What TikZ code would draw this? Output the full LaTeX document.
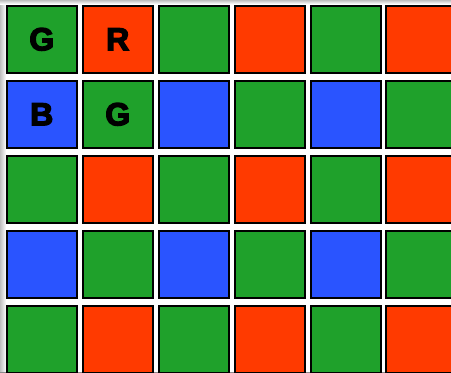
\documentclass[tikz,border=0pt]{standalone}
\usepackage{fontspec}
\setmainfont{Liberation Sans}
\newfontfamily\heavyfont{Liberation Sans}[BoldFeatures={FakeBold=4}]
\definecolor{bgreen}{RGB}{31,161,43}
\definecolor{bred}{RGB}{255,58,0}
\definecolor{bblue}{RGB}{42,84,255}
\begin{document}
\begin{tikzpicture}[x=1pt,y=-1pt,
  cell/.style={draw=black,line width=1.6pt,minimum width=70pt,minimum height=67pt,inner sep=0pt,anchor=north west},
  G/.style={cell,fill=bgreen},
  R/.style={cell,fill=bred},
  B/.style={cell,fill=bblue},
  letter/.style={font=\heavyfont\fontsize{32}{32}\selectfont\bfseries}]
\useasboundingbox (0,0) rectangle (451,373);
\fill[white] (0,0) rectangle (451,373);
\clip (0,0) rectangle (451,373);
\shade[left color=black!25,right color=white] (0,0) rectangle (6,373);
\shade[top color=black!25,bottom color=white] (0,0) rectangle (451,4);
\fill[black!45] (0,372) rectangle (451,373);
\foreach \r/\y in {1/5,2/80,3/155,4/230,5/305}{
  \foreach \c/\x in {1/6,2/82,3/158,4/234,5/310,6/385}{
    \pgfmathtruncatemacro{\ro}{mod(\r,2)}
    \pgfmathtruncatemacro{\co}{mod(\c,2)}
    \ifnum\ro=1
      \ifnum\co=1 \node[G] (c-\r-\c) at (\x,\y) {}; \else \node[R] (c-\r-\c) at (\x,\y) {}; \fi
    \else
      \ifnum\co=1 \node[B] (c-\r-\c) at (\x,\y) {}; \else \node[G] (c-\r-\c) at (\x,\y) {}; \fi
    \fi
  }
}
\foreach \n/\t in {c-1-1/G,c-1-2/R,c-2-1/B,c-2-2/G}{
  \node[letter] (l-\n) at (\n.center) {\t};
}
\end{tikzpicture}
\end{document}
